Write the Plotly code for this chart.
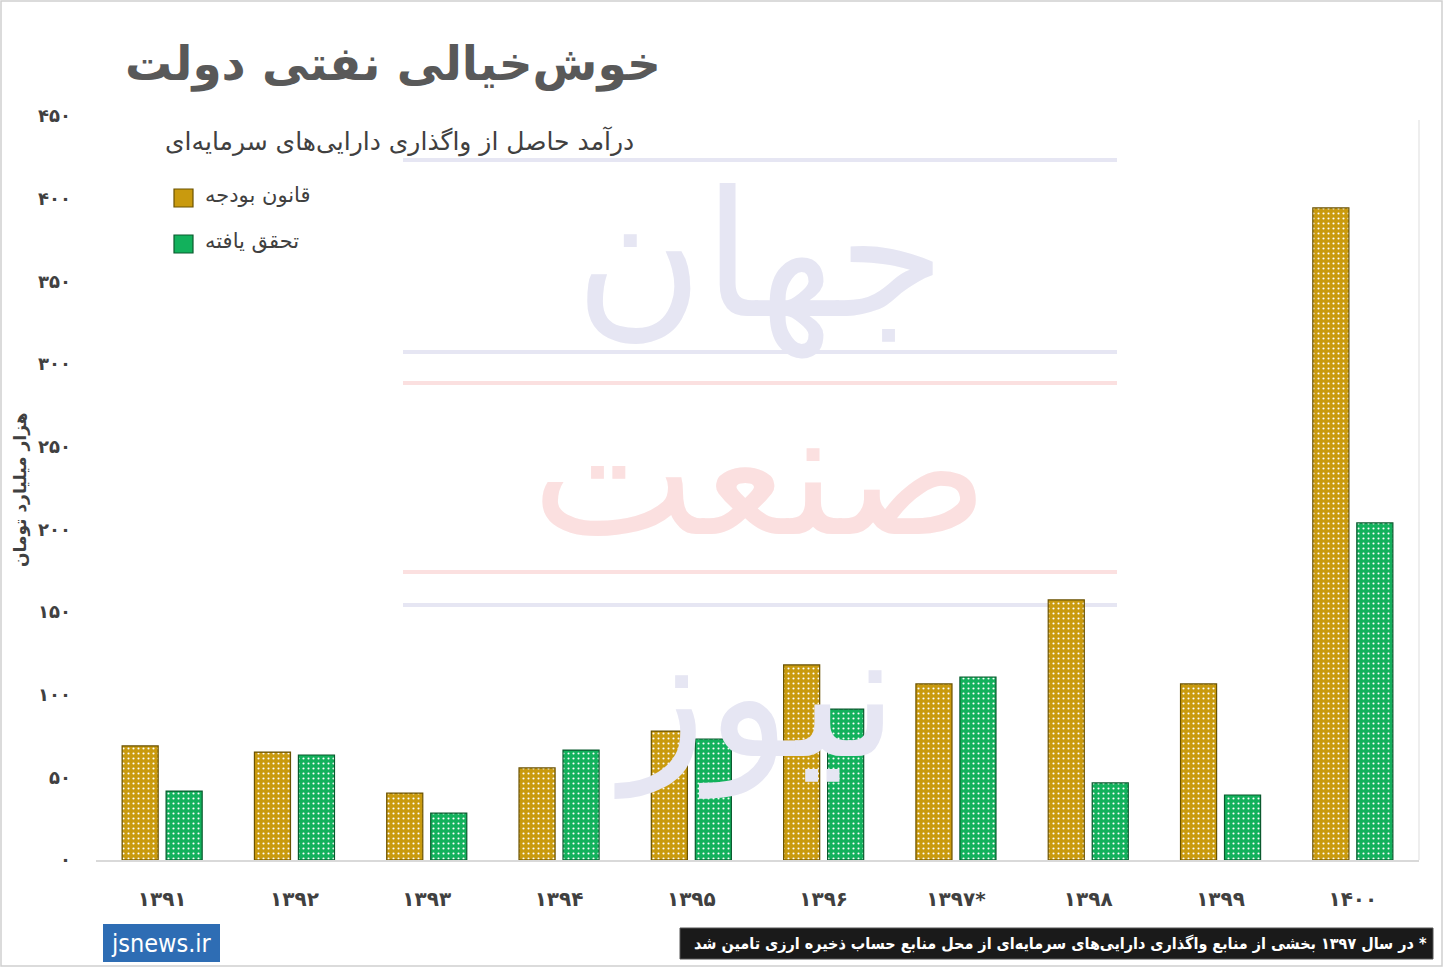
import plotly.graph_objects as go

years = ["۱۳۹۱", "۱۳۹۲", "۱۳۹۳", "۱۳۹۴", "۱۳۹۵", "۱۳۹۶", "۱۳۹۷*", "۱۳۹۸", "۱۳۹۹", "۱۴۰۰"]
budget_law = [69, 65.3, 40.5, 55.7, 78, 118, 106.5, 157.3, 106.5, 394.4]
realized = [41.7, 63.5, 28.4, 66.5, 73.2, 91.3, 110.7, 46.6, 39.3, 203.9]
y_tick_vals = [0, 50, 100, 150, 200, 250, 300, 350, 400, 450]
y_tick_text = ["۰", "۵۰", "۱۰۰", "۱۵۰", "۲۰۰", "۲۵۰", "۳۰۰", "۳۵۰", "۴۰۰", "۴۵۰"]
series_names = ["قانون بودجه", "تحقق یافته"]
watermark_words = ["جهان", "صنعت", "نیوز"]

FONT = "DejaVu Sans"
GOLD = "#C99A0E"
GREEN = "#12B15C"
EDGE = ["#6b5200", "#0a5a2e"]
COLORS = [GOLD, GREEN]

W, H = 1443, 968
L, R, T, B = 96, 24, 116, 108
PW, PH = W - L - R, H - T - B
YMAX = 450
XMIN, XMAX = -0.5, len(years) - 0.5


def px(x):
    return (x - L) / PW


def py(y):
    return 1 - (y - T) / PH


def dx(xpix):
    return XMIN + (xpix - L) / PW * (XMAX - XMIN)


def dy(ypix):
    return (1 - (ypix - T) / PH) * YMAX


xpos = list(range(len(years)))

fig = go.Figure()
# faint watermark words, drawn first so they sit under the bars
lav = "#e6e6f3"
pink = "#fbe0e0"
for word, yc, col in zip(watermark_words, [272, 490, 712], [lav, pink, lav]):
    fig.add_trace(go.Scatter(x=[dx(760)], y=[dy(yc)], mode="text", text=[word],
                             textfont=dict(size=175, color=col, family=FONT),
                             textposition="middle center", hoverinfo="skip", showlegend=False))

for name, vals, col, edge in zip(series_names, [budget_law, realized], COLORS, EDGE):
    fig.add_trace(go.Bar(
        x=xpos, y=vals, name=name,
        marker=dict(color=col, line=dict(color=edge, width=1.2),
                    pattern=dict(shape=".", fgcolor="#ffffff", bgcolor=col, size=5, solidity=0.14,
                                 fillmode="replace")),
    ))

fig.update_layout(
    width=W, height=H,
    margin=dict(l=L, r=R, t=T, b=B, autoexpand=False),
    paper_bgcolor="white", plot_bgcolor="rgba(0,0,0,0)",
    barmode="group", bargap=0.335, bargroupgap=0.18,
    font=dict(family=FONT, color="#404040"),
    showlegend=False,
    xaxis=dict(range=[XMIN, XMAX], showline=True, linecolor="#d9d9d9", linewidth=2, ticks="",
               showgrid=False, zeroline=False,
               tickvals=xpos, ticktext=["<b>" + t + "</b>" for t in years],
               tickfont=dict(size=20, color="#404040", family=FONT), ticklabelstandoff=20),
    yaxis=dict(range=[0, YMAX], tickvals=y_tick_vals, ticktext=["<b>" + t + "</b>" for t in y_tick_text],
               showgrid=False, zeroline=False, showline=False, ticks="",
               tickfont=dict(size=18, color="#404040", family=FONT), ticklabelstandoff=24),
)

# watermark rules
for y0, col in [(160, lav), (352, lav), (383, pink), (572, pink), (605, lav)]:
    fig.add_shape(type="line", xref="paper", yref="paper", layer="below",
                  x0=px(403), x1=px(1117), y0=py(y0), y1=py(y0),
                  line=dict(color=col, width=4))

# right border of plot
fig.add_shape(type="line", xref="paper", yref="paper", x0=1, x1=1, y0=0, y1=py(120),
              line=dict(color="#eeeeee", width=2))
# outer frame
fig.add_shape(type="rect", xref="paper", yref="paper", x0=px(1), x1=px(W - 1),
              y0=py(H - 2), y1=py(1),
              line=dict(color="#d0d0d0", width=1.5))

# manual legend
for i, (name, col, edge) in enumerate(zip(series_names, COLORS, EDGE)):
    cy = 198 + i * 46
    fig.add_shape(type="rect", xref="paper", yref="paper",
                  x0=px(174), x1=px(193), y0=py(cy + 9), y1=py(cy - 9),
                  fillcolor=col, line=dict(color=edge, width=1.2))
    fig.add_annotation(text=name, xref="paper", yref="paper", x=px(203), y=py(cy - 3),
                       showarrow=False, font=dict(size=21, color="#404040", family=FONT),
                       xanchor="left", yanchor="middle")

# title
fig.add_annotation(text="<b>خوش‌خیالی نفتی دولت</b>", xref="paper", yref="paper",
                   x=px(393), y=py(64),
                   showarrow=False, font=dict(size=47, color="#595959", family=FONT),
                   xanchor="center", yanchor="middle")
# subtitle
fig.add_annotation(text="درآمد حاصل از واگذاری دارایی‌های سرمایه‌ای", xref="paper", yref="paper",
                   x=px(636), y=py(142),
                   showarrow=False, font=dict(size=25, color="#404040", family=FONT),
                   xanchor="right", yanchor="middle")
# y-axis title
fig.add_annotation(text="<b>هزار میلیارد تومان</b>", xref="paper", yref="paper",
                   x=px(20), y=py(490),
                   showarrow=False, textangle=-90, font=dict(size=17, color="#404040", family=FONT),
                   xanchor="center", yanchor="middle")

# footer: site badge
fig.add_shape(type="rect", xref="paper", yref="paper",
              x0=px(103), x1=px(220), y0=py(962), y1=py(924),
              fillcolor="#2e6db4", line=dict(width=0))
fig.add_annotation(text="jsnews.ir", xref="paper", yref="paper",
                   x=px(161), y=py(943),
                   showarrow=False, font=dict(size=25, color="white", family="DejaVu Sans Condensed, DejaVu Sans"),
                   xanchor="center", yanchor="middle")
# footer note
fig.add_shape(type="rect", xref="paper", yref="paper",
              x0=px(680), x1=px(1433), y0=py(959), y1=py(928),
              fillcolor="#1a1a1a", line=dict(color="#555555", width=1))
fig.add_annotation(text="<b>در سال ۱۳۹۷ بخشی از منابع واگذاری دارایی‌های سرمایه‌ای از محل منابع حساب ذخیره ارزی تامین شد *</b>",
                   xref="paper", yref="paper",
                   x=px(1429), y=py(943),
                   showarrow=False, font=dict(size=16, color="white", family="DejaVu Sans Condensed, DejaVu Sans"),
                   xanchor="right", yanchor="middle")

fig.write_html("out.html")
